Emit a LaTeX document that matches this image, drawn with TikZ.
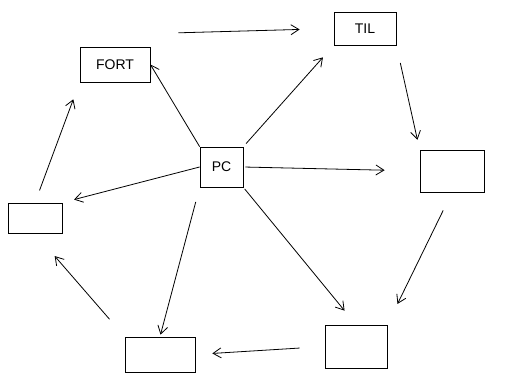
\documentclass[tikz,border=0pt]{standalone}
\usepackage{fontspec}
\setmainfont{Liberation Sans}
\usetikzlibrary{arrows.meta}
\begin{document}
\begin{tikzpicture}[x=1pt,y=-1pt,
  box/.style={draw,line width=0.8pt,inner sep=0pt,font=\fontsize{14}{16}\selectfont},
  link/.style={line width=0.8pt,-{Straight Barb[length=8pt,width=10pt]}}]
\useasboundingbox[fill=white] (0,0) rectangle (507,374);
\node[box,minimum width=70pt,minimum height=35pt] (fort) at (115,64.5) {FORT};
\node[box,minimum width=62pt,minimum height=33pt] (til) at (365,28.5) {TIL};
\node[box,minimum width=43pt,minimum height=40pt] (pc) at (221.5,167) {PC};
\node[box,minimum width=64pt,minimum height=42pt] (right) at (452,171) {};
\node[box,minimum width=54pt,minimum height=30pt] (left) at (35,218) {};
\node[box,minimum width=70pt,minimum height=35pt] (bm) at (160,354.5) {};
\node[box,minimum width=62pt,minimum height=43pt] (br) at (356,346.5) {};
\draw[link,shorten <=28pt,shorten >=34pt] ([yshift=13pt]fort.north east) -- (til.west);
\draw[link] (pc.north west) -- (fort.east);
\draw[link,shorten <=4pt,shorten >=16pt] (pc.north east) -- (til.south west);
\draw[link,shorten <=2pt,shorten >=35pt] (pc.east) -- (right.west);
\draw[link,shorten >=12pt] (pc.west) -- (left.north east);
\draw[link,shorten <=15pt,shorten >=2pt] (pc.south west) -- (bm.north);
\draw[link,shorten <=2pt,shorten >=18pt] (pc.south east) -- (br.north);
\draw[link,shorten <=18pt,shorten >=10pt] (til.south east) -- (right.north west);
\draw[link,shorten <=20pt,shorten >=23pt] (right.south) -- (br.north east);
\draw[link,shorten <=25pt,shorten >=17pt] (br.west) -- (bm.east);
\draw[link,shorten <=23pt,shorten >=30pt] (bm.north west) -- (left.south);
\draw[link,shorten <=13pt,shorten >=18pt] (left.north) -- (fort.south west);
\end{tikzpicture}
\end{document}
